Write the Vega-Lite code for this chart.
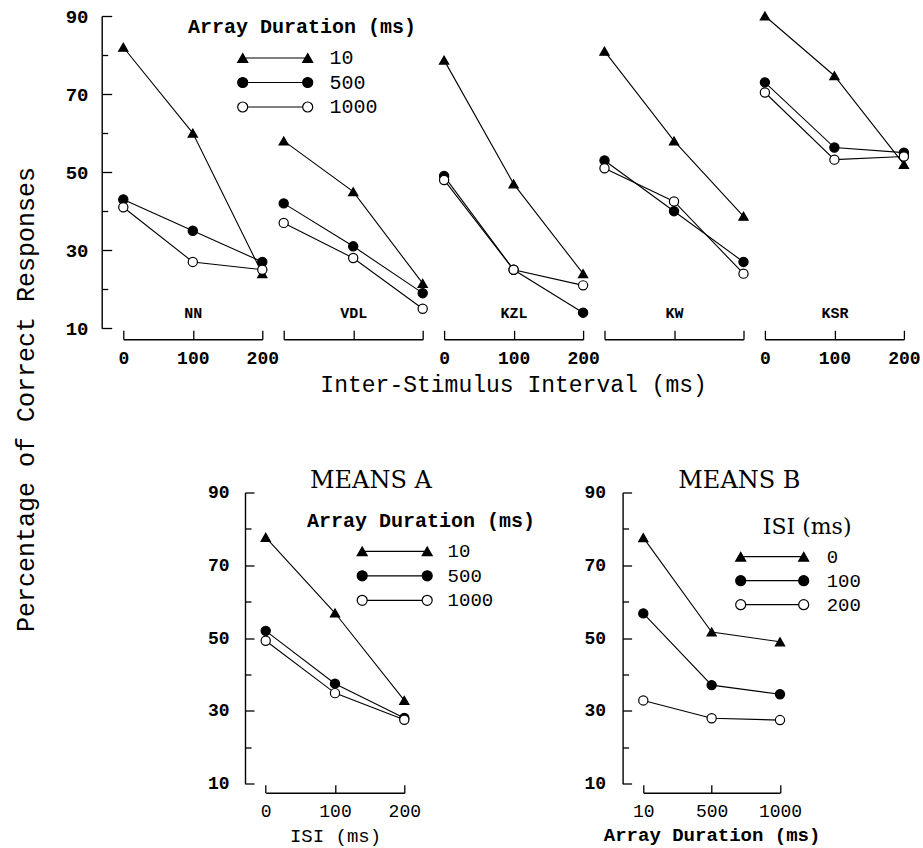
{
  "$schema": "https://vega.github.io/schema/vega-lite/v6.json",
  "autosize": {"type": "none"},
  "padding": {"left": 123.3, "top": 16, "right": 799.7, "bottom": 832},
  "background": "white",
  "datasets": {
    "subj": [
      {"subject": "NN", "dur": "10", "isi": 0, "pct": 82},
      {"subject": "NN", "dur": "10", "isi": 100, "pct": 60},
      {"subject": "NN", "dur": "10", "isi": 200, "pct": 24},
      {"subject": "NN", "dur": "500", "isi": 0, "pct": 43},
      {"subject": "NN", "dur": "500", "isi": 100, "pct": 35},
      {"subject": "NN", "dur": "500", "isi": 200, "pct": 27},
      {"subject": "NN", "dur": "1000", "isi": 0, "pct": 41},
      {"subject": "NN", "dur": "1000", "isi": 100, "pct": 27},
      {"subject": "NN", "dur": "1000", "isi": 200, "pct": 25},
      {"subject": "VDL", "dur": "10", "isi": 0, "pct": 58},
      {"subject": "VDL", "dur": "10", "isi": 100, "pct": 45},
      {"subject": "VDL", "dur": "10", "isi": 200, "pct": 21.5},
      {"subject": "VDL", "dur": "500", "isi": 0, "pct": 42},
      {"subject": "VDL", "dur": "500", "isi": 100, "pct": 31},
      {"subject": "VDL", "dur": "500", "isi": 200, "pct": 19},
      {"subject": "VDL", "dur": "1000", "isi": 0, "pct": 37},
      {"subject": "VDL", "dur": "1000", "isi": 100, "pct": 28},
      {"subject": "VDL", "dur": "1000", "isi": 200, "pct": 15},
      {"subject": "KZL", "dur": "10", "isi": 0, "pct": 78.7},
      {"subject": "KZL", "dur": "10", "isi": 100, "pct": 47},
      {"subject": "KZL", "dur": "10", "isi": 200, "pct": 24},
      {"subject": "KZL", "dur": "500", "isi": 0, "pct": 49},
      {"subject": "KZL", "dur": "500", "isi": 100, "pct": 25},
      {"subject": "KZL", "dur": "500", "isi": 200, "pct": 14},
      {"subject": "KZL", "dur": "1000", "isi": 0, "pct": 48},
      {"subject": "KZL", "dur": "1000", "isi": 100, "pct": 25},
      {"subject": "KZL", "dur": "1000", "isi": 200, "pct": 21},
      {"subject": "KW", "dur": "10", "isi": 0, "pct": 81},
      {"subject": "KW", "dur": "10", "isi": 100, "pct": 58},
      {"subject": "KW", "dur": "10", "isi": 200, "pct": 38.7},
      {"subject": "KW", "dur": "500", "isi": 0, "pct": 53},
      {"subject": "KW", "dur": "500", "isi": 100, "pct": 40},
      {"subject": "KW", "dur": "500", "isi": 200, "pct": 27},
      {"subject": "KW", "dur": "1000", "isi": 0, "pct": 51},
      {"subject": "KW", "dur": "1000", "isi": 100, "pct": 42.5},
      {"subject": "KW", "dur": "1000", "isi": 200, "pct": 24},
      {"subject": "KSR", "dur": "10", "isi": 0, "pct": 90},
      {"subject": "KSR", "dur": "10", "isi": 100, "pct": 74.7},
      {"subject": "KSR", "dur": "10", "isi": 200, "pct": 52},
      {"subject": "KSR", "dur": "500", "isi": 0, "pct": 73},
      {"subject": "KSR", "dur": "500", "isi": 100, "pct": 56.3},
      {"subject": "KSR", "dur": "500", "isi": 200, "pct": 55},
      {"subject": "KSR", "dur": "1000", "isi": 0, "pct": 70.4},
      {"subject": "KSR", "dur": "1000", "isi": 100, "pct": 53.2},
      {"subject": "KSR", "dur": "1000", "isi": 200, "pct": 54}
    ],
    "meansA": [
      {"dur": "10", "isi": 0, "pct": 77.7},
      {"dur": "10", "isi": 100, "pct": 56.9},
      {"dur": "10", "isi": 200, "pct": 32.9},
      {"dur": "500", "isi": 0, "pct": 52},
      {"dur": "500", "isi": 100, "pct": 37.5},
      {"dur": "500", "isi": 200, "pct": 28.1},
      {"dur": "1000", "isi": 0, "pct": 49.3},
      {"dur": "1000", "isi": 100, "pct": 34.9},
      {"dur": "1000", "isi": 200, "pct": 27.6}
    ],
    "meansB": [
      {"isi": "0", "dur": "10", "pct": 77.6},
      {"isi": "0", "dur": "500", "pct": 51.7},
      {"isi": "0", "dur": "1000", "pct": 49},
      {"isi": "100", "dur": "10", "pct": 56.8},
      {"isi": "100", "dur": "500", "pct": 37.1},
      {"isi": "100", "dur": "1000", "pct": 34.6},
      {"isi": "200", "dur": "10", "pct": 32.9},
      {"isi": "200", "dur": "500", "pct": 28},
      {"isi": "200", "dur": "1000", "pct": 27.5}
    ]
  },
  "vconcat": [
    {
      "title": {"text": "Inter-Stimulus Interval (ms)", "orient": "bottom", "anchor": "start", "frame": "group", "dx": 390.3, "align": "center", "baseline": "top", "offset": -257.5, "font": "Liberation Mono", "fontSize": 23, "fontWeight": "normal", "color": "black"},
      "hconcat": [
        {
          "width": 139, "height": 312.3,
          "data": {"name": "subj"},
          "transform": [{"filter": "datum.subject == 'NN'"}],
          "encoding": {
            "x": {"field": "isi", "type": "quantitative", "scale": {"domain": [0, 200], "nice": false, "zero": false},
                  "axis": {"offset": 11, "values": [0, 100, 200], "tickSize": -9, "labelPadding": 19, "labelFont": "Liberation Mono", "labelFontWeight": "bold", "labelFontSize": 18, "labelFlush": false, "labelOverlap": false,
                           "title": "NN", "titleX": 69.5, "titleY": -27.3, "titleBaseline": "middle", "titleAlign": "center", "titleFont": "Liberation Mono", "titleFontWeight": "bold", "titleFontSize": 15}},
            "y": {"field": "pct", "type": "quantitative", "scale": {"domain": [10, 90], "nice": false, "zero": false},
                  "axis": {"offset": 21.6, "values": [10, 20, 30, 40, 50, 60, 70, 80, 90],
                           "labelExpr": "datum.value % 20 == 10 ? datum.label : ''",
                           "tickSize": {"condition": {"test": "datum.value % 20 == 10", "value": -10}, "value": -6},
                           "labelPadding": 23.7, "labelFont": "Liberation Mono", "labelFontWeight": "bold", "labelFontSize": 19, "labelOverlap": false,
                           "title": "Percentage of Correct Responses", "titleFont": "Liberation Mono", "titleFontSize": 25, "titleFontWeight": "normal",
                           "titleX": -76.7, "titleY": 383, "titleAngle": -90, "titleBaseline": "middle", "titleAlign": "center", "titleLimit": 1000}}
          },
          "layer": [
            {"mark": {"type": "line", "color": "black", "strokeWidth": 1.1}, "encoding": {"detail": {"field": "dur"}}},
            {"mark": {"type": "point", "filled": true, "stroke": "black", "strokeWidth": 1.2, "size": 85, "opacity": 1},
             "encoding": {
               "fill": {"field": "dur", "type": "nominal", "scale": {"domain": ["10", "500", "1000"], "range": ["black", "black", "white"]}, "legend": null},
               "shape": {"field": "dur", "type": "nominal", "scale": {"range": ["triangle-up", "circle", "circle"]}, "legend": null}
             }},
            {"transform": [{"filter": "false"}],
             "mark": {"type": "point", "filled": true, "stroke": "black", "strokeWidth": 1.2, "size": 100, "opacity": 1},
             "encoding": {
               "fill": {"field": "dur", "type": "nominal", "scale": {"domain": ["10", "500", "1000"], "range": ["black", "black", "white"]},
                        "legend": {"title": "Array Duration (ms)", "orient": "none", "legendX": 64.7, "legendY": 1, "direction": "vertical", "columns": 1, "padding": 0,
                                   "titleFont": "Liberation Mono", "titleFontSize": 20, "titleFontWeight": "bold", "titleColor": "black", "titleLimit": 500, "titlePadding": 11,
                                   "labelFont": "Liberation Mono", "labelFontSize": 20, "labelColor": "black",
                                   "symbolSize": 100, "symbolStrokeWidth": 1.2, "symbolOffset": 44.7, "labelOffset": 76.8, "rowPadding": 4.5}},
               "shape": {"field": "dur", "type": "nominal",
                         "scale": {"domain": ["10", "500", "1000"], "range": ["M0,-0.87L1,0.87L-1,0.87ZM13,-0.87L14,0.87L12,0.87ZM0,0L13,0", "M-1,0A1,1,0,1,1,1,0A1,1,0,1,1,-1,0ZM12,0A1,1,0,1,1,14,0A1,1,0,1,1,12,0ZM1,0L12,0", "M-1,0A1,1,0,1,1,1,0A1,1,0,1,1,-1,0ZM12,0A1,1,0,1,1,14,0A1,1,0,1,1,12,0ZM1,0L12,0"]},
                         "legend": {"title": "Array Duration (ms)", "orient": "none", "legendX": 64.7, "legendY": 1, "direction": "vertical", "columns": 1, "padding": 0,
                                   "titleFont": "Liberation Mono", "titleFontSize": 20, "titleFontWeight": "bold", "titleColor": "black", "titleLimit": 500, "titlePadding": 11,
                                   "labelFont": "Liberation Mono", "labelFontSize": 20, "labelColor": "black",
                                   "symbolSize": 100, "symbolStrokeWidth": 1.2, "symbolOffset": 44.7, "labelOffset": 76.8, "rowPadding": 4.5}}
             }}
          ],
          "resolve": {"scale": {"fill": "independent", "shape": "independent"}}
        },
        {
          "width": 139, "height": 312.3,
          "data": {"name": "subj"},
          "transform": [{"filter": "datum.subject == 'VDL'"}],
          "encoding": {
            "x": {"field": "isi", "type": "quantitative", "scale": {"domain": [0, 200], "nice": false, "zero": false},
                  "axis": {"offset": 11, "values": [0, 100, 200], "tickSize": -9, "labels": false,
                           "title": "VDL", "titleX": 69.5, "titleY": -27.3, "titleBaseline": "middle", "titleAlign": "center", "titleFont": "Liberation Mono", "titleFontWeight": "bold", "titleFontSize": 15}},
            "y": {"field": "pct", "type": "quantitative", "scale": {"domain": [10, 90], "nice": false, "zero": false}, "axis": null}
          },
          "layer": [
            {"mark": {"type": "line", "color": "black", "strokeWidth": 1.1}, "encoding": {"detail": {"field": "dur"}}},
            {"mark": {"type": "point", "filled": true, "stroke": "black", "strokeWidth": 1.2, "size": 85, "opacity": 1},
             "encoding": {
               "fill": {"field": "dur", "type": "nominal", "scale": {"domain": ["10", "500", "1000"], "range": ["black", "black", "white"]}, "legend": null},
               "shape": {"field": "dur", "type": "nominal", "scale": {"range": ["triangle-up", "circle", "circle"]}, "legend": null}
             }}
          ]
        },
        {
          "width": 139, "height": 312.3,
          "data": {"name": "subj"},
          "transform": [{"filter": "datum.subject == 'KZL'"}],
          "encoding": {
            "x": {"field": "isi", "type": "quantitative", "scale": {"domain": [0, 200], "nice": false, "zero": false},
                  "axis": {"offset": 11, "values": [0, 100, 200], "tickSize": -9, "labelPadding": 19, "labelFont": "Liberation Mono", "labelFontWeight": "bold", "labelFontSize": 18, "labelFlush": false, "labelOverlap": false,
                           "title": "KZL", "titleX": 69.5, "titleY": -27.3, "titleBaseline": "middle", "titleAlign": "center", "titleFont": "Liberation Mono", "titleFontWeight": "bold", "titleFontSize": 15}},
            "y": {"field": "pct", "type": "quantitative", "scale": {"domain": [10, 90], "nice": false, "zero": false}, "axis": null}
          },
          "layer": [
            {"mark": {"type": "line", "color": "black", "strokeWidth": 1.1}, "encoding": {"detail": {"field": "dur"}}},
            {"mark": {"type": "point", "filled": true, "stroke": "black", "strokeWidth": 1.2, "size": 85, "opacity": 1},
             "encoding": {
               "fill": {"field": "dur", "type": "nominal", "scale": {"domain": ["10", "500", "1000"], "range": ["black", "black", "white"]}, "legend": null},
               "shape": {"field": "dur", "type": "nominal", "scale": {"range": ["triangle-up", "circle", "circle"]}, "legend": null}
             }}
          ]
        },
        {
          "width": 139, "height": 312.3,
          "data": {"name": "subj"},
          "transform": [{"filter": "datum.subject == 'KW'"}],
          "encoding": {
            "x": {"field": "isi", "type": "quantitative", "scale": {"domain": [0, 200], "nice": false, "zero": false},
                  "axis": {"offset": 11, "values": [0, 100, 200], "tickSize": -9, "labels": false,
                           "title": "KW", "titleX": 69.5, "titleY": -27.3, "titleBaseline": "middle", "titleAlign": "center", "titleFont": "Liberation Mono", "titleFontWeight": "bold", "titleFontSize": 15}},
            "y": {"field": "pct", "type": "quantitative", "scale": {"domain": [10, 90], "nice": false, "zero": false}, "axis": null}
          },
          "layer": [
            {"mark": {"type": "line", "color": "black", "strokeWidth": 1.1}, "encoding": {"detail": {"field": "dur"}}},
            {"mark": {"type": "point", "filled": true, "stroke": "black", "strokeWidth": 1.2, "size": 85, "opacity": 1},
             "encoding": {
               "fill": {"field": "dur", "type": "nominal", "scale": {"domain": ["10", "500", "1000"], "range": ["black", "black", "white"]}, "legend": null},
               "shape": {"field": "dur", "type": "nominal", "scale": {"range": ["triangle-up", "circle", "circle"]}, "legend": null}
             }}
          ]
        },
        {
          "width": 139, "height": 312.3,
          "data": {"name": "subj"},
          "transform": [{"filter": "datum.subject == 'KSR'"}],
          "encoding": {
            "x": {"field": "isi", "type": "quantitative", "scale": {"domain": [0, 200], "nice": false, "zero": false},
                  "axis": {"offset": 11, "values": [0, 100, 200], "tickSize": -9, "labelPadding": 19, "labelFont": "Liberation Mono", "labelFontWeight": "bold", "labelFontSize": 18, "labelFlush": false, "labelOverlap": false,
                           "title": "KSR", "titleX": 69.5, "titleY": -27.3, "titleBaseline": "middle", "titleAlign": "center", "titleFont": "Liberation Mono", "titleFontWeight": "bold", "titleFontSize": 15}},
            "y": {"field": "pct", "type": "quantitative", "scale": {"domain": [10, 90], "nice": false, "zero": false}, "axis": null}
          },
          "layer": [
            {"mark": {"type": "line", "color": "black", "strokeWidth": 1.1}, "encoding": {"detail": {"field": "dur"}}},
            {"mark": {"type": "point", "filled": true, "stroke": "black", "strokeWidth": 1.2, "size": 85, "opacity": 1},
             "encoding": {
               "fill": {"field": "dur", "type": "nominal", "scale": {"domain": ["10", "500", "1000"], "range": ["black", "black", "white"]}, "legend": null},
               "shape": {"field": "dur", "type": "nominal", "scale": {"range": ["triangle-up", "circle", "circle"]}, "legend": null}
             }}
          ]
        }
      ],
      "spacing": 21.4,
      "bounds": "flush",
      "resolve": {"scale": {"fill": "independent", "shape": "independent"}}
    },
    {
      "hconcat": [
        {
          "width": 281, "height": 291.3,
          "title": {"text": "MEANS A", "anchor": "start", "dx": 186.7, "frame": "group", "font": "DejaVu Serif", "fontSize": 24, "fontWeight": "normal", "baseline": "bottom", "offset": -33, "color": "black"},
          "data": {"name": "meansA"},
          "encoding": {
            "x": {"field": "isi", "type": "quantitative", "scale": {"domain": [0, 200], "range": [142.4, 281], "nice": false, "zero": false},
                  "axis": {"offset": 9, "values": [0, 100, 200], "tickSize": -8, "labelPadding": 18, "labelFont": "Liberation Mono", "labelFontWeight": "normal", "labelFontSize": 18, "labelFlush": false, "labelOverlap": false,
                           "title": "ISI (ms)", "titleFont": "Liberation Mono", "titleFontSize": 19, "titleFontWeight": "normal", "titleX": 211.7, "titleY": 43, "titleBaseline": "middle", "titleAlign": "center"}},
            "y": {"field": "pct", "type": "quantitative", "scale": {"domain": [10, 90], "nice": false, "zero": false},
                  "axis": {"offset": -121.7, "values": [10, 20, 30, 40, 50, 60, 70, 80, 90],
                           "labelExpr": "datum.value % 20 == 10 ? datum.label : ''",
                           "tickSize": {"condition": {"test": "datum.value % 20 == 10", "value": -9}, "value": -6},
                           "labelPadding": 25, "labelFont": "Liberation Mono", "labelFontWeight": "bold", "labelFontSize": 18, "labelOverlap": false, "title": null}}
          },
          "layer": [
            {"mark": {"type": "line", "color": "black", "strokeWidth": 1.1}, "encoding": {"detail": {"field": "dur"}}},
            {"mark": {"type": "point", "filled": true, "stroke": "black", "strokeWidth": 1.2, "size": 85, "opacity": 1},
             "encoding": {
               "fill": {"field": "dur", "type": "nominal", "scale": {"domain": ["10", "500", "1000"], "range": ["black", "black", "white"]}, "legend": null},
               "shape": {"field": "dur", "type": "nominal", "scale": {"range": ["triangle-up", "circle", "circle"]}, "legend": null}
             }},
            {"transform": [{"filter": "false"}],
             "mark": {"type": "point", "filled": true, "stroke": "black", "strokeWidth": 1.2, "size": 100, "opacity": 1},
             "encoding": {
               "fill": {"field": "dur", "type": "nominal", "scale": {"domain": ["10", "500", "1000"], "range": ["black", "black", "white"]},
                        "legend": {"title": "Array Duration (ms)", "orient": "none", "legendX": 183.7, "legendY": 18.3, "direction": "vertical", "columns": 1, "padding": 0,
                                   "titleFont": "Liberation Mono", "titleFontSize": 20, "titleFontWeight": "bold", "titleColor": "black", "titleLimit": 500, "titlePadding": 11,
                                   "labelFont": "Liberation Mono", "labelFontSize": 19, "labelColor": "black",
                                   "symbolSize": 100, "symbolStrokeWidth": 1.2, "symbolOffset": 45.7, "labelOffset": 75.9, "rowPadding": 4.5}},
               "shape": {"field": "dur", "type": "nominal",
                         "scale": {"domain": ["10", "500", "1000"], "range": ["M0,-0.87L1,0.87L-1,0.87ZM13,-0.87L14,0.87L12,0.87ZM0,0L13,0", "M-1,0A1,1,0,1,1,1,0A1,1,0,1,1,-1,0ZM12,0A1,1,0,1,1,14,0A1,1,0,1,1,12,0ZM1,0L12,0", "M-1,0A1,1,0,1,1,1,0A1,1,0,1,1,-1,0ZM12,0A1,1,0,1,1,14,0A1,1,0,1,1,12,0ZM1,0L12,0"]},
                         "legend": {"title": "Array Duration (ms)", "orient": "none", "legendX": 183.7, "legendY": 18.3, "direction": "vertical", "columns": 1, "padding": 0,
                                   "titleFont": "Liberation Mono", "titleFontSize": 20, "titleFontWeight": "bold", "titleColor": "black", "titleLimit": 500, "titlePadding": 11,
                                   "labelFont": "Liberation Mono", "labelFontSize": 19, "labelColor": "black",
                                   "symbolSize": 100, "symbolStrokeWidth": 1.2, "symbolOffset": 45.7, "labelOffset": 75.9, "rowPadding": 4.5}}
             }}
          ],
          "resolve": {"scale": {"fill": "independent", "shape": "independent"}}
        },
        {
          "width": 136.7, "height": 291.3,
          "title": {"text": "MEANS B", "anchor": "start", "dx": 35, "frame": "group", "font": "DejaVu Serif", "fontSize": 24, "fontWeight": "normal", "baseline": "bottom", "offset": -33, "color": "black"},
          "data": {"name": "meansB"},
          "encoding": {
            "x": {"field": "dur", "type": "ordinal", "sort": null, "scale": {"type": "point", "padding": 0, "domain": ["10", "500", "1000"]},
                  "axis": {"offset": 9, "tickSize": -8, "labelPadding": 18, "labelAngle": 0, "labelFont": "Liberation Mono", "labelFontWeight": "normal", "labelFontSize": 18, "labelFlush": false, "labelOverlap": false,
                           "title": "Array Duration (ms)", "titleFont": "Liberation Mono", "titleFontSize": 19, "titleFontWeight": "bold", "titleX": 68.3, "titleY": 42, "titleBaseline": "middle", "titleAlign": "center", "titleLimit": 500}},
            "y": {"field": "pct", "type": "quantitative", "scale": {"domain": [10, 90], "nice": false, "zero": false},
                  "axis": {"offset": 20.7, "values": [10, 20, 30, 40, 50, 60, 70, 80, 90],
                           "labelExpr": "datum.value % 20 == 10 ? datum.label : ''",
                           "tickSize": {"condition": {"test": "datum.value % 20 == 10", "value": -9}, "value": -6},
                           "labelPadding": 26, "labelFont": "Liberation Mono", "labelFontWeight": "bold", "labelFontSize": 18, "labelOverlap": false, "title": null}}
          },
          "layer": [
            {"mark": {"type": "line", "color": "black", "strokeWidth": 1.1}, "encoding": {"detail": {"field": "isi"}}},
            {"mark": {"type": "point", "filled": true, "stroke": "black", "strokeWidth": 1.2, "size": 85, "opacity": 1},
             "encoding": {
               "fill": {"field": "isi", "type": "nominal", "scale": {"domain": ["0", "100", "200"], "range": ["black", "black", "white"]}, "legend": null},
               "shape": {"field": "isi", "type": "nominal", "scale": {"range": ["triangle-up", "circle", "circle"]}, "legend": null}
             }},
            {"transform": [{"filter": "false"}],
             "mark": {"type": "point", "filled": true, "stroke": "black", "strokeWidth": 1.2, "size": 100, "opacity": 1},
             "encoding": {
               "fill": {"field": "isi", "type": "nominal", "scale": {"domain": ["0", "100", "200"], "range": ["black", "black", "white"]},
                        "legend": {"title": "ISI (ms)", "orient": "none", "legendX": 119.4, "legendY": 24.7, "direction": "vertical", "columns": 1, "padding": 0,
                                   "titleFont": "DejaVu Serif", "titleFontSize": 22, "titleFontWeight": "normal", "titleColor": "black", "titleLimit": 500, "titlePadding": 8,
                                   "labelFont": "Liberation Mono", "labelFontSize": 19, "labelColor": "black",
                                   "symbolSize": 100, "symbolStrokeWidth": 1.2, "symbolOffset": -31.5, "labelOffset": 76.5, "rowPadding": 4}},
               "shape": {"field": "isi", "type": "nominal",
                         "scale": {"domain": ["0", "100", "200"], "range": ["M0,-0.87L1,0.87L-1,0.87ZM12.6,-0.87L13.6,0.87L11.6,0.87ZM0,0L12.6,0", "M-1,0A1,1,0,1,1,1,0A1,1,0,1,1,-1,0ZM11.6,0A1,1,0,1,1,13.6,0A1,1,0,1,1,11.6,0ZM1,0L11.6,0", "M-1,0A1,1,0,1,1,1,0A1,1,0,1,1,-1,0ZM11.6,0A1,1,0,1,1,13.6,0A1,1,0,1,1,11.6,0ZM1,0L11.6,0"]},
                         "legend": {"title": "ISI (ms)", "orient": "none", "legendX": 119.4, "legendY": 24.7, "direction": "vertical", "columns": 1, "padding": 0,
                                   "titleFont": "DejaVu Serif", "titleFontSize": 22, "titleFontWeight": "normal", "titleColor": "black", "titleLimit": 500, "titlePadding": 8,
                                   "labelFont": "Liberation Mono", "labelFontSize": 19, "labelColor": "black",
                                   "symbolSize": 100, "symbolStrokeWidth": 1.2, "symbolOffset": -31.5, "labelOffset": 76.5, "rowPadding": 4}}
             }}
          ],
          "resolve": {"scale": {"fill": "independent", "shape": "independent"}}
        }
      ],
      "spacing": 239,
      "bounds": "flush",
      "resolve": {"scale": {"fill": "independent", "shape": "independent"}}
    }
  ],
  "spacing": 476.5,
  "bounds": "flush",
  "resolve": {"scale": {"fill": "independent", "shape": "independent"}},
  "config": {
    "view": {"stroke": null},
    "font": "Liberation Mono",
    "axis": {"domainColor": "black", "tickColor": "black", "labelColor": "black", "titleColor": "black", "grid": false, "domainWidth": 1.4, "tickWidth": 1.3}
  }
}
